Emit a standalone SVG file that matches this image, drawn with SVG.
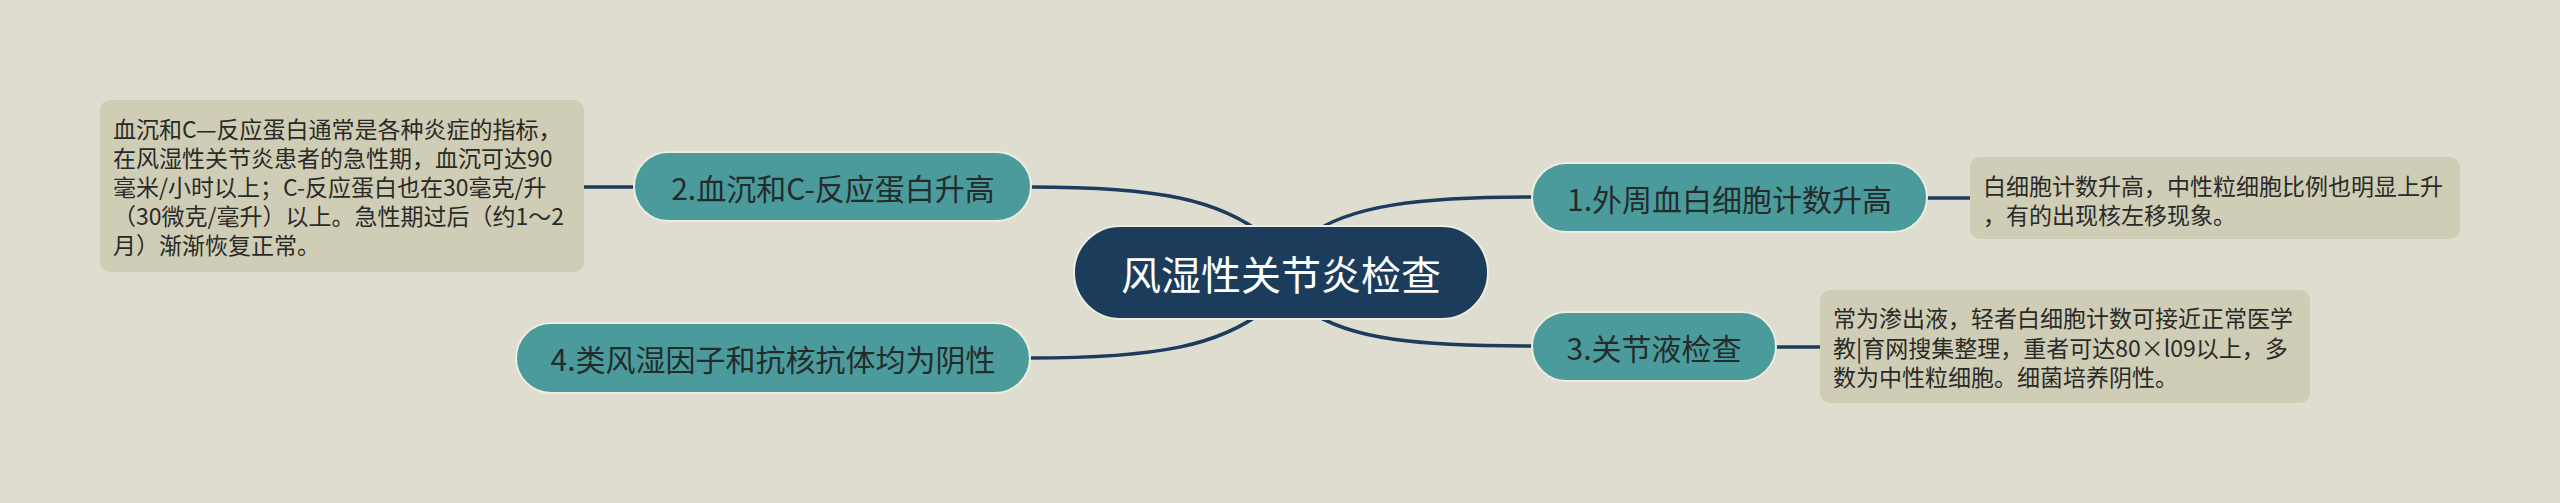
<svg xmlns="http://www.w3.org/2000/svg" width="2560" height="503" viewBox="0 0 2560 503">
<style>
.bg{fill:#dfddd0}
.topic{fill:#4b9b9c;stroke:#eeeddf;stroke-width:2}
.root{fill:#1b3d5b;stroke:#eeeddf;stroke-width:2}
.note{fill:#cfcdb6}
.tt{font-family:"Noto Sans CJK SC","Noto Sans",sans-serif;font-size:30px;fill:#232b2b;text-anchor:middle;dominant-baseline:central}
.rt{font-family:"Noto Sans CJK SC","Noto Sans",sans-serif;font-size:40px;fill:#ffffff;text-anchor:middle;dominant-baseline:central}
.nt{font-family:"Noto Sans CJK SC","Noto Sans",sans-serif;font-size:23px;fill:#2a2a26;dominant-baseline:central}
.ln{fill:none;stroke:#1b3d5b;stroke-width:3.5}
</style>
<rect class="bg" x="0" y="0" width="2560" height="503"/>
<g id="connectors">
<path class="ln" d="M1031 187 C1160 187 1220 200 1265 236"/>
<path class="ln" d="M1532 197 C1420 197 1350 205 1308 236"/>
<path class="ln" d="M1030 358 C1160 358 1220 345 1265 310"/>
<path class="ln" d="M1532 346 C1420 346 1350 340 1308 310"/>
<path class="ln" d="M584 187 L634 187"/>
<path class="ln" d="M1927 198 L1970 198"/>
<path class="ln" d="M1776 347 L1820 347"/>
</g>
<g id="root">
<rect class="root" x="1074" y="226" width="414" height="93" rx="46.5"/>
<text class="rt" x="1281" y="273">风湿性关节炎检查</text>
</g>
<g id="node2">
<rect class="topic" x="634" y="152" width="397" height="69" rx="34.5"/>
<text class="tt" x="833" y="187">2.血沉和C-反应蛋白升高</text>
</g>
<g id="note2">
<rect class="note" x="100" y="100" width="484" height="172" rx="10"/>
<text class="nt" x="113" y="128">血沉和C—反应蛋白通常是各种炎症的指标，</text>
<text class="nt" x="113" y="157">在风湿性关节炎患者的急性期，血沉可达90</text>
<text class="nt" x="113" y="186">毫米/小时以上；C-反应蛋白也在30毫克/升</text>
<text class="nt" x="113" y="215">（30微克/毫升）以上。急性期过后（约1～2</text>
<text class="nt" x="113" y="244">月）渐渐恢复正常。</text>
</g>
<g id="node1">
<rect class="topic" x="1532" y="163" width="395" height="69" rx="34.5"/>
<text class="tt" x="1729.5" y="198">1.外周血白细胞计数升高</text>
</g>
<g id="note1">
<rect class="note" x="1970" y="157" width="490" height="82" rx="10"/>
<text class="nt" x="1983" y="185">白细胞计数升高，中性粒细胞比例也明显上升</text>
<text class="nt" x="1983" y="214">，有的出现核左移现象。</text>
</g>
<g id="node3">
<rect class="topic" x="1532" y="312" width="244" height="69" rx="34.5"/>
<text class="tt" x="1654" y="347">3.关节液检查</text>
</g>
<g id="note3">
<rect class="note" x="1820" y="290" width="490" height="113" rx="10"/>
<text class="nt" x="1833" y="317">常为渗出液，轻者白细胞计数可接近正常医学</text>
<text class="nt" x="1833" y="346.5">教|育网搜集整理，重者可达80×l09以上，多</text>
<text class="nt" x="1833" y="376">数为中性粒细胞。细菌培养阴性。</text>
</g>
<g id="node4">
<rect class="topic" x="516" y="323" width="514" height="70" rx="35"/>
<text class="tt" x="773" y="358">4.类风湿因子和抗核抗体均为阴性</text>
</g>
</svg>
